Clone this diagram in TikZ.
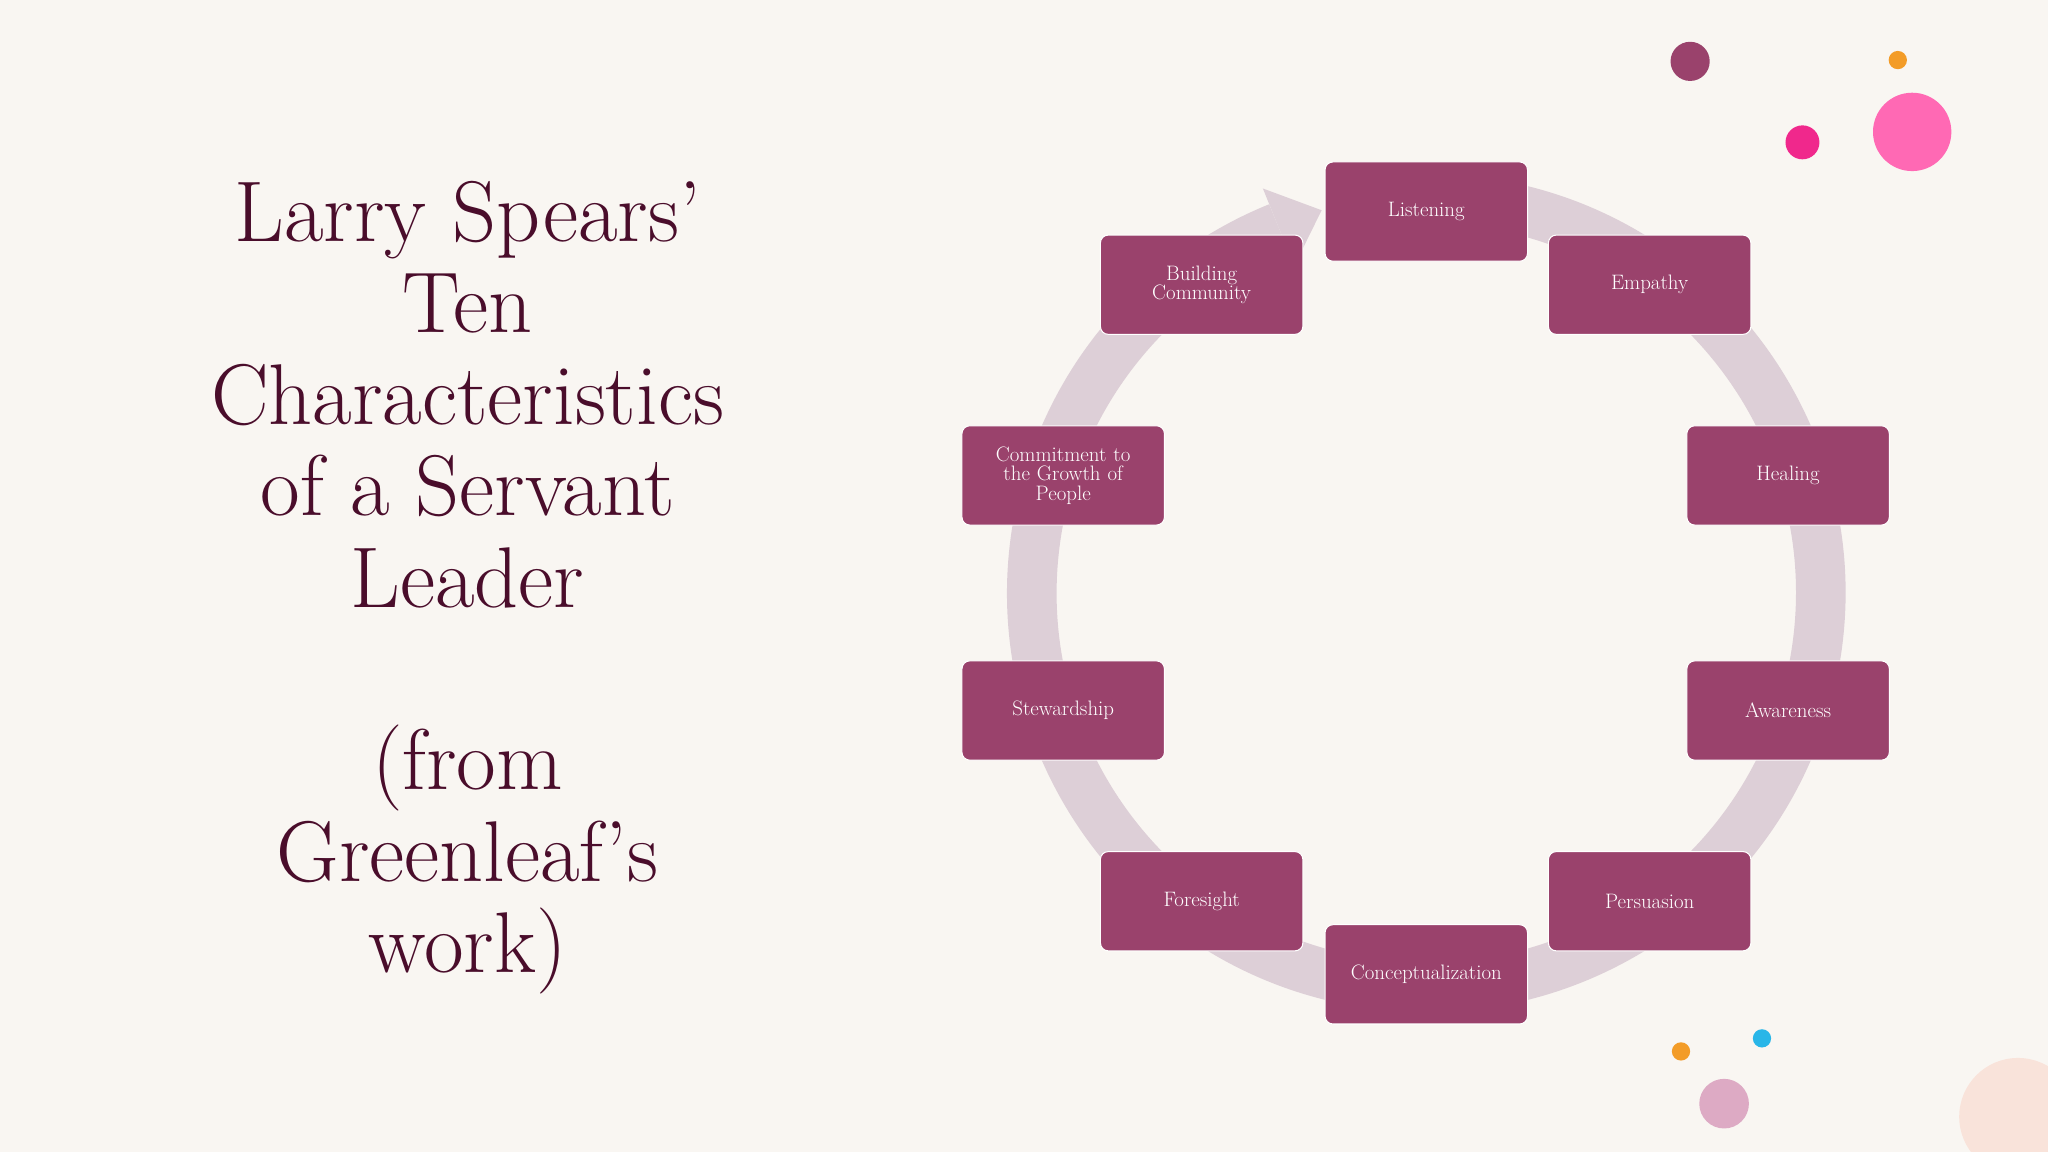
\documentclass[tikz,border=0pt]{standalone}
\usetikzlibrary{calc}
\begin{document}
\begin{tikzpicture}[x=1pt,y=1pt,
 box/.style={draw=white,line width=0.8pt,rounded corners=6pt,fill=boxc,minimum width=155pt,minimum height=76pt,text=white,font=\fontsize{16}{15}\selectfont,align=center,text width=140pt}]
\definecolor{bg}{HTML}{F9F6F2}\definecolor{boxc}{HTML}{9A426C}\definecolor{ring}{HTML}{DDCFD7}\definecolor{ttl}{HTML}{4A0D2B}
\definecolor{peach}{HTML}{F9E3DA}\definecolor{orng}{HTML}{F39C28}\definecolor{mag}{HTML}{F0288C}
\definecolor{hpink}{HTML}{FF69B4}\definecolor{cyn}{HTML}{29B6E8}\definecolor{lpink}{HTML}{DDAAC4}
\fill[bg] (0,0) rectangle (1568,882);
\useasboundingbox (0,0) rectangle (1568,882);
\begin{scope}
\clip (0,0) rectangle (1568,882);
\fill[peach] (1545,27) circle (45);
\end{scope}
\fill[boxc] (1294,835) circle (15);
\fill[orng] (1453,836) circle (7);
\fill[mag] (1380,773) circle (13);
\fill[hpink] (1464,781) circle (30);
\fill[orng] (1287,77) circle (7);
\fill[cyn] (1349,87) circle (7);
\fill[lpink] (1320,37) circle (19);
% ring
\draw[ring,line width=38pt] ([shift={(80:302)}]1092,428) arc[start angle=80,end angle=-248,radius=302];
\coordinate (ae) at ([shift={(112:302)}]1092,428);
\fill[ring] ([shift={(112:334)}]1092,428) -- ([shift={(112:270)}]1092,428) -- ($(ae)+(33,13)$) -- cycle;
% title
\node[text=ttl,align=center,font=\fontsize{66}{70}\selectfont] (title) at (358,432)
 {Larry Spears'\\Ten\\Characteristics\\of a Servant\\Leader\\[70pt](from\\Greenleaf's\\work)};
\node[box] (l) at (1092,720) {Listening};
\node[box] (e) at (1263,664) {Empathy};
\node[box] (h) at (1369,518) {Healing};
\node[box] (a) at (1369,338) {Awareness};
\node[box] (p) at (1263,192) {Persuasion};
\node[box] (c) at (1092,136) {Conceptualization};
\node[box] (f) at (920,192) {Foresight};
\node[box] (s) at (814,338) {Stewardship};
\node[box] (g) at (814,518) {Commitment to\\the Growth of\\People};
\node[box] (b) at (920,664) {Building\\Community};
\end{tikzpicture}
\end{document}
